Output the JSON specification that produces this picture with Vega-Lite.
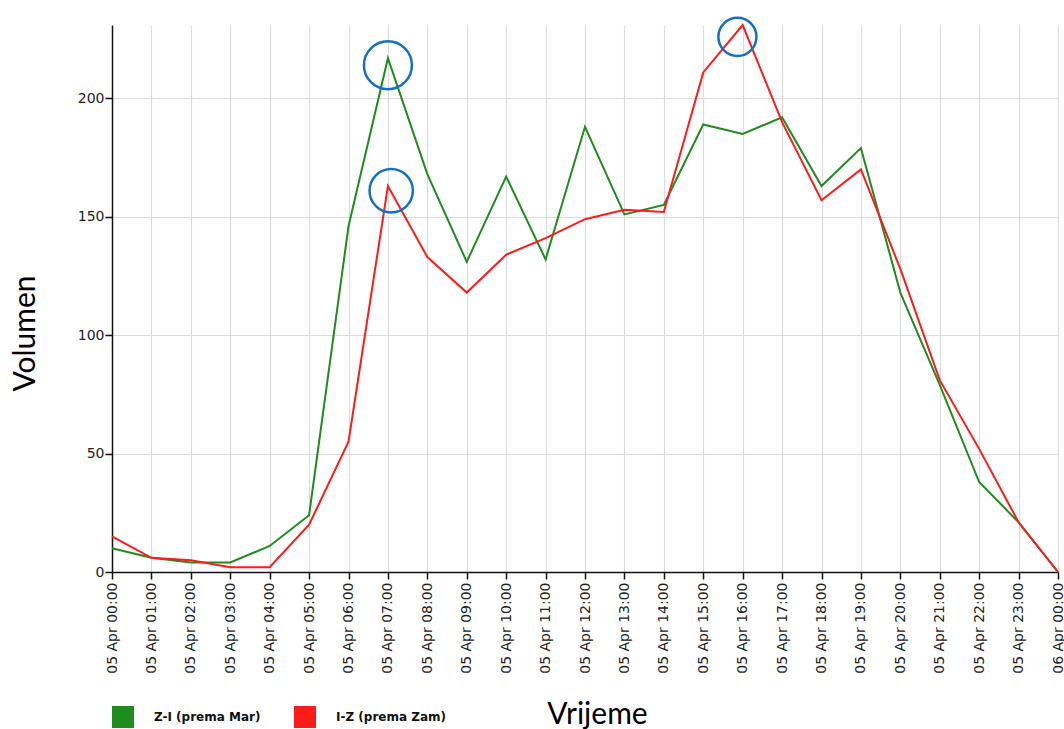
{
  "$schema": "https://vega.github.io/schema/vega-lite/v6.json",
  "autosize": "none",
  "width": 946,
  "height": 547,
  "padding": {"left": 112, "top": 25, "right": 6, "bottom": 157},
  "background": "white",
  "config": {"view": {"stroke": null}, "font": "DejaVu Sans"},
  "datasets": {
    "series": [
      {"time": "2024-04-05T00:00:00Z", "series": "Z-I (prema Mar)", "value": 10},
      {"time": "2024-04-05T01:00:00Z", "series": "Z-I (prema Mar)", "value": 6},
      {"time": "2024-04-05T02:00:00Z", "series": "Z-I (prema Mar)", "value": 4},
      {"time": "2024-04-05T03:00:00Z", "series": "Z-I (prema Mar)", "value": 4},
      {"time": "2024-04-05T04:00:00Z", "series": "Z-I (prema Mar)", "value": 11},
      {"time": "2024-04-05T05:00:00Z", "series": "Z-I (prema Mar)", "value": 24},
      {"time": "2024-04-05T06:00:00Z", "series": "Z-I (prema Mar)", "value": 146},
      {"time": "2024-04-05T07:00:00Z", "series": "Z-I (prema Mar)", "value": 217},
      {"time": "2024-04-05T08:00:00Z", "series": "Z-I (prema Mar)", "value": 168},
      {"time": "2024-04-05T09:00:00Z", "series": "Z-I (prema Mar)", "value": 131},
      {"time": "2024-04-05T10:00:00Z", "series": "Z-I (prema Mar)", "value": 167},
      {"time": "2024-04-05T11:00:00Z", "series": "Z-I (prema Mar)", "value": 132},
      {"time": "2024-04-05T12:00:00Z", "series": "Z-I (prema Mar)", "value": 188},
      {"time": "2024-04-05T13:00:00Z", "series": "Z-I (prema Mar)", "value": 151},
      {"time": "2024-04-05T14:00:00Z", "series": "Z-I (prema Mar)", "value": 155},
      {"time": "2024-04-05T15:00:00Z", "series": "Z-I (prema Mar)", "value": 189},
      {"time": "2024-04-05T16:00:00Z", "series": "Z-I (prema Mar)", "value": 185},
      {"time": "2024-04-05T17:00:00Z", "series": "Z-I (prema Mar)", "value": 192},
      {"time": "2024-04-05T18:00:00Z", "series": "Z-I (prema Mar)", "value": 163},
      {"time": "2024-04-05T19:00:00Z", "series": "Z-I (prema Mar)", "value": 179},
      {"time": "2024-04-05T20:00:00Z", "series": "Z-I (prema Mar)", "value": 118},
      {"time": "2024-04-05T21:00:00Z", "series": "Z-I (prema Mar)", "value": 79},
      {"time": "2024-04-05T22:00:00Z", "series": "Z-I (prema Mar)", "value": 38},
      {"time": "2024-04-05T23:00:00Z", "series": "Z-I (prema Mar)", "value": 21},
      {"time": "2024-04-06T00:00:00Z", "series": "Z-I (prema Mar)", "value": 0},
      {"time": "2024-04-05T00:00:00Z", "series": "I-Z (prema Zam)", "value": 15},
      {"time": "2024-04-05T01:00:00Z", "series": "I-Z (prema Zam)", "value": 6},
      {"time": "2024-04-05T02:00:00Z", "series": "I-Z (prema Zam)", "value": 5},
      {"time": "2024-04-05T03:00:00Z", "series": "I-Z (prema Zam)", "value": 2},
      {"time": "2024-04-05T04:00:00Z", "series": "I-Z (prema Zam)", "value": 2},
      {"time": "2024-04-05T05:00:00Z", "series": "I-Z (prema Zam)", "value": 20},
      {"time": "2024-04-05T06:00:00Z", "series": "I-Z (prema Zam)", "value": 55},
      {"time": "2024-04-05T07:00:00Z", "series": "I-Z (prema Zam)", "value": 163},
      {"time": "2024-04-05T08:00:00Z", "series": "I-Z (prema Zam)", "value": 133},
      {"time": "2024-04-05T09:00:00Z", "series": "I-Z (prema Zam)", "value": 118},
      {"time": "2024-04-05T10:00:00Z", "series": "I-Z (prema Zam)", "value": 134},
      {"time": "2024-04-05T11:00:00Z", "series": "I-Z (prema Zam)", "value": 141},
      {"time": "2024-04-05T12:00:00Z", "series": "I-Z (prema Zam)", "value": 149},
      {"time": "2024-04-05T13:00:00Z", "series": "I-Z (prema Zam)", "value": 153},
      {"time": "2024-04-05T14:00:00Z", "series": "I-Z (prema Zam)", "value": 152},
      {"time": "2024-04-05T15:00:00Z", "series": "I-Z (prema Zam)", "value": 211},
      {"time": "2024-04-05T16:00:00Z", "series": "I-Z (prema Zam)", "value": 231},
      {"time": "2024-04-05T17:00:00Z", "series": "I-Z (prema Zam)", "value": 190},
      {"time": "2024-04-05T18:00:00Z", "series": "I-Z (prema Zam)", "value": 157},
      {"time": "2024-04-05T19:00:00Z", "series": "I-Z (prema Zam)", "value": 170},
      {"time": "2024-04-05T20:00:00Z", "series": "I-Z (prema Zam)", "value": 128},
      {"time": "2024-04-05T21:00:00Z", "series": "I-Z (prema Zam)", "value": 81},
      {"time": "2024-04-05T22:00:00Z", "series": "I-Z (prema Zam)", "value": 52},
      {"time": "2024-04-05T23:00:00Z", "series": "I-Z (prema Zam)", "value": 21},
      {"time": "2024-04-06T00:00:00Z", "series": "I-Z (prema Zam)", "value": 0}
    ],
    "highlights": [
      {"time": "2024-04-05T07:00:00Z", "value": 214, "marker": "a"},
      {"time": "2024-04-05T07:05:00Z", "value": 161, "marker": "b"},
      {"time": "2024-04-05T15:52:00Z", "value": 226, "marker": "c"}
    ]
  },
  "layer": [
    {
      "data": {"name": "series"},
      "mark": {"type": "line", "strokeWidth": 2},
      "encoding": {
        "x": {
          "field": "time",
          "type": "temporal",
          "scale": {"type": "utc", "nice": false},
          "axis": {
            "title": "Vrijeme",
            "titleFont": "Lato",
            "titleFontSize": 30,
            "titleFontWeight": "normal",
            "titleColor": "#000",
            "titleX": 485,
            "titleY": 142,
            "titleBaseline": "middle",
            "titleAlign": "center",
            "labelExpr": "utcFormat(datum.value, '%d %b %H:%M')",
            "tickCount": 24,
            "labelAngle": -90,
            "labelFontSize": 14,
            "labelColor": "#222",
            "labelPadding": 3,
            "labelOverlap": false,
            "labelFlush": false,
            "domainColor": "#111",
            "domainWidth": 1.5,
            "tickColor": "#111",
            "tickWidth": 1.5,
            "tickSize": 7,
            "grid": true,
            "gridColor": "#dcdcdc",
            "gridWidth": 1.2
          }
        },
        "y": {
          "field": "value",
          "type": "quantitative",
          "scale": {"domain": [0, 231], "nice": false},
          "axis": {
            "title": "Volumen",
            "titleFont": "Lato",
            "titleFontSize": 30,
            "titleFontWeight": "normal",
            "titleColor": "#000",
            "titleX": -87,
            "titleY": 308,
            "titleAngle": -90,
            "titleBaseline": "middle",
            "titleAlign": "center",
            "values": [0, 50, 100, 150, 200],
            "labelFontSize": 14,
            "labelColor": "#222",
            "labelPadding": 1,
            "domainColor": "#111",
            "domainWidth": 1.5,
            "tickColor": "#111",
            "tickWidth": 1.5,
            "tickSize": 7,
            "grid": true,
            "gridColor": "#dcdcdc",
            "gridWidth": 1.2
          }
        },
        "color": {
          "field": "series",
          "type": "nominal",
          "scale": {"domain": ["Z-I (prema Mar)", "I-Z (prema Zam)"], "range": ["#1f8c1f", "#ff1a1a"]},
          "legend": {
            "title": null,
            "orient": "none",
            "direction": "horizontal",
            "legendX": 0,
            "legendY": 681,
            "symbolType": "square",
            "symbolSize": 400,
            "symbolStrokeWidth": 2,
            "symbolStrokeColor": "#222222",
            "labelFont": "DejaVu Sans",
            "labelFontSize": 12,
            "labelFontWeight": "bold",
            "labelColor": "#111",
            "labelOffset": 20,
            "columnPadding": 30,
            "encode": {
              "symbols": {
                "update": {
                  "fill": {"scale": "color", "field": "value"},
                  "fillOpacity": {"value": 1},
                  "stroke": {"value": "#222222"},
                  "strokeWidth": {"value": 2},
                  "strokeOpacity": {"value": 1}
                }
              }
            }
          }
        }
      }
    },
    {
      "data": {"name": "highlights"},
      "mark": {"type": "point", "shape": "circle", "filled": false, "stroke": "#1470c4", "strokeWidth": 2.5, "opacity": 1},
      "encoding": {
        "x": {"field": "time", "type": "temporal"},
        "y": {"field": "value", "type": "quantitative"},
        "size": {
          "field": "marker",
          "type": "nominal",
          "scale": {"domain": ["a", "b", "c"], "range": [2300, 1450, 1600]},
          "legend": null
        }
      }
    }
  ]
}
